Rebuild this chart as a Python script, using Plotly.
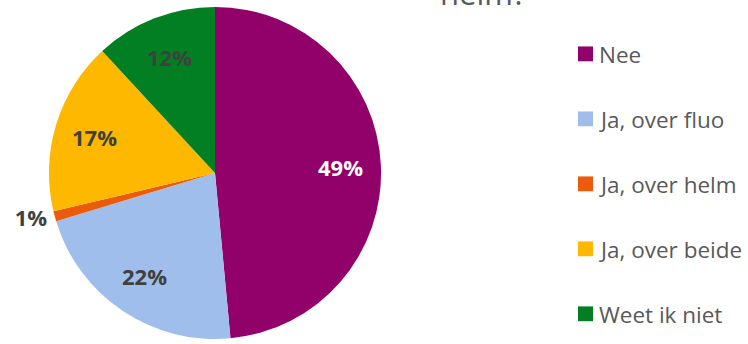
import math
import plotly.graph_objects as go

categories = ["Nee", "Ja, over fluo", "Ja, over helm", "Ja, over beide", "Weet ik niet"]
values = [49, 22, 1, 17, 12]
colors = ["#920069", "#9FBEEB", "#EA5B0C", "#FFB800", "#017F22"]
label_colors = ["#FFFFFF", "#404040", "#404040", "#404040", "#404040"]
title_tail = "helm?"

W, H = 748, 344
cx, cy, r = 215, 175, 168

fig = go.Figure()
fig.add_trace(go.Pie(
    labels=categories,
    values=values,
    sort=False,
    direction="clockwise",
    rotation=0,
    marker=dict(colors=colors, line=dict(width=0)),
    texttemplate="%{value}%",
    textposition=["none", "none", "outside", "none", "none"],
    textfont=dict(family="Open Sans", size=22, color="#404040", weight="bold"),
    domain=dict(x=[(cx - r) / W, (cx + r) / W], y=[1 - (cy + r) / H, 1 - (cy - r) / H]),
    showlegend=False,
    hoverinfo="label+percent",
))

shapes = []
annotations = []

# inside percentage labels placed at mid-angle of each slice
total = sum(values)
cum = 0
for v, tc, pos in zip(values, label_colors, ["in", "in", "out", "in", "in"]):
    mid = (cum + v / 2) / total * 2 * math.pi
    cum += v
    if pos != "in":
        continue
    rr = 0.75 * r
    px = cx + rr * math.sin(mid)
    py = cy - rr * math.cos(mid)
    annotations.append(dict(text=f"<b>{v}%</b>", xref="paper", yref="paper",
                            x=px / W, y=1 - py / H, xanchor="center", yanchor="middle",
                            showarrow=False,
                            font=dict(family="Open Sans", size=22, color=tc)))

leg_x = 578
leg_y0 = 54.5
leg_dy = 65.75
for i, (lab, col) in enumerate(zip(categories, colors)):
    yc = leg_y0 + i * leg_dy
    shapes.append(dict(type="rect", xref="paper", yref="paper",
                       x0=leg_x / W, x1=(leg_x + 15) / W,
                       y0=1 - (yc + 7.5) / H, y1=1 - (yc - 7.5) / H,
                       fillcolor=col, line=dict(width=0)))
    annotations.append(dict(text=lab, xref="paper", yref="paper",
                            x=(leg_x + 19) / W, y=1 - (yc + 1) / H,
                            xanchor="left", yanchor="middle", showarrow=False,
                            font=dict(family="Open Sans", size=22.5, color="#595959")))

annotations.append(dict(text=title_tail, xref="paper", yref="paper",
                        x=483 / W, y=1 - 16 / H, xanchor="center", yanchor="bottom",
                        showarrow=False,
                        font=dict(family="Open Sans", size=31, color="#595959")))

fig.update_layout(
    width=W, height=H,
    margin=dict(l=0, r=0, t=0, b=0),
    paper_bgcolor="white", plot_bgcolor="white",
    shapes=shapes, annotations=annotations,
)

fig.write_html("out.html")
